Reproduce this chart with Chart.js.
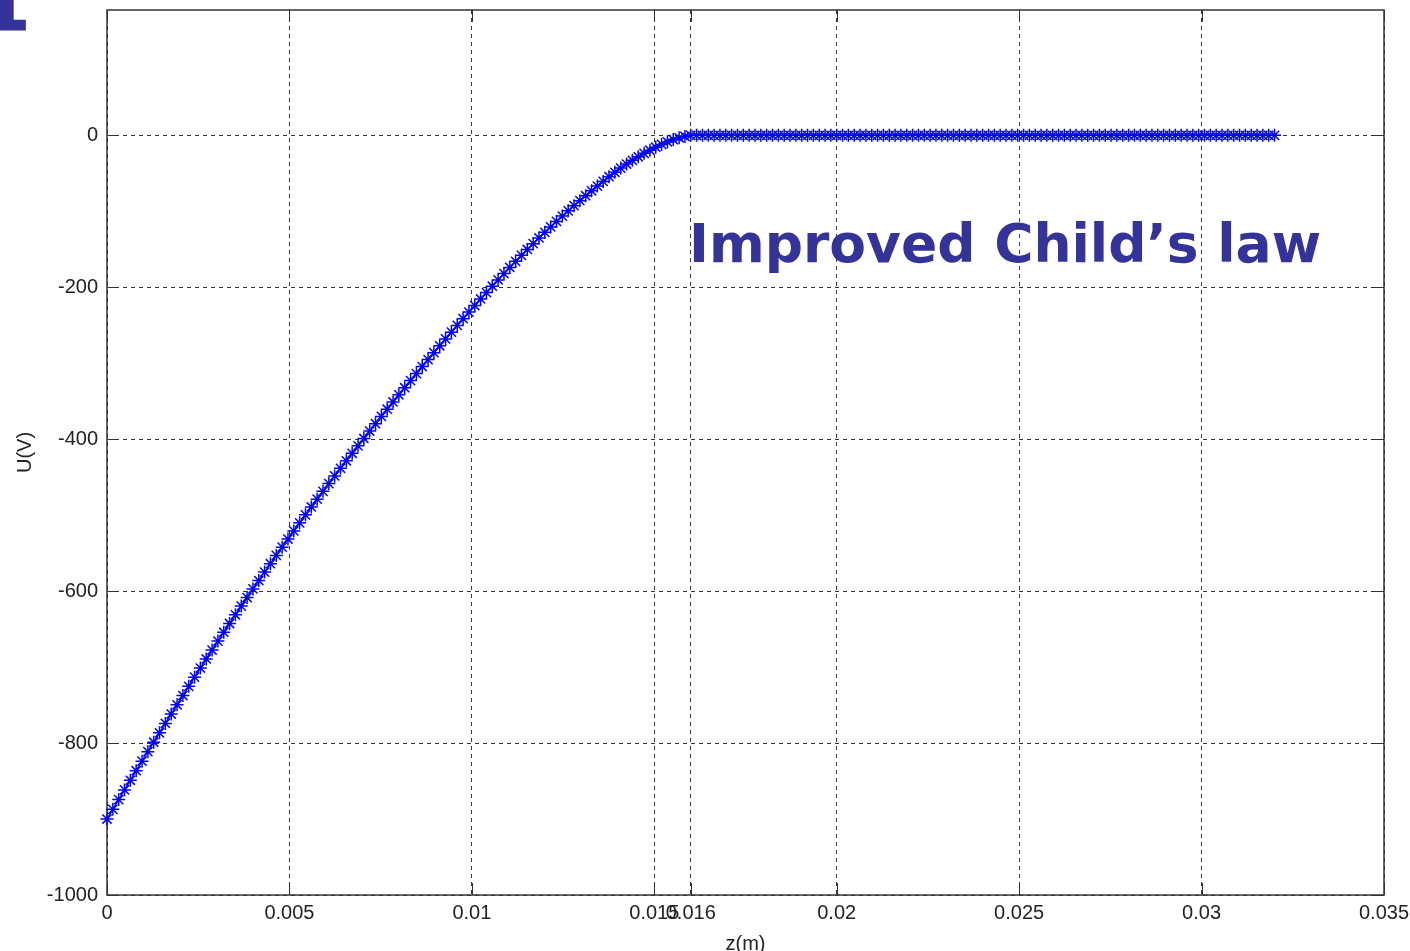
<!DOCTYPE html>
<html>
<head>
<meta charset="utf-8">
<script src="https://cdn.jsdelivr.net/npm/chart.js@4.4.0/dist/chart.umd.min.js"></script>
<style>
  html, body { margin: 0; padding: 0; background: #ffffff; overflow: hidden; }
  canvas { display: block; }
</style>
</head>
<body>
<canvas id="chart" width="1410" height="951"></canvas>
<script>
// Potential through the sheath (z from the electrode up to the sheath edge)
const zSheath = [0, 0.00016, 0.00032, 0.00048, 0.00064, 0.0008, 0.00096, 0.00112, 0.00128, 0.00144,
  0.0016, 0.00176, 0.00192, 0.00208, 0.00224, 0.0024, 0.00256, 0.00272, 0.00288, 0.00304,
  0.0032, 0.00336, 0.00352, 0.00368, 0.00384, 0.004, 0.00416, 0.00432, 0.00448, 0.00464,
  0.0048, 0.00496, 0.00512, 0.00528, 0.00544, 0.0056, 0.00576, 0.00592, 0.00608, 0.00624,
  0.0064, 0.00656, 0.00672, 0.00688, 0.00704, 0.0072, 0.00736, 0.00752, 0.00768, 0.00784,
  0.008, 0.00816, 0.00832, 0.00848, 0.00864, 0.0088, 0.00896, 0.00912, 0.00928, 0.00944,
  0.0096, 0.00976, 0.00992, 0.01008, 0.01024, 0.0104, 0.01056, 0.01072, 0.01088, 0.01104,
  0.0112, 0.01136, 0.01152, 0.01168, 0.01184, 0.012, 0.01216, 0.01232, 0.01248, 0.01264,
  0.0128, 0.01296, 0.01312, 0.01328, 0.01344, 0.0136, 0.01376, 0.01392, 0.01408, 0.01424,
  0.0144, 0.01456, 0.01472, 0.01488, 0.01504, 0.0152, 0.01536, 0.01552, 0.01568, 0.01584,
  0.016];
const uSheath = [-900, -887.2, -874.4, -861.7, -849.0, -836.4, -823.8, -811.3, -798.9, -786.5,
  -774.1, -761.8, -749.6, -737.4, -725.3, -713.2, -701.2, -689.3, -677.5, -665.8,
  -654.1, -642.6, -631.1, -619.7, -608.4, -597.1, -586.0, -574.9, -563.9, -553.0,
  -542.1, -531.4, -520.7, -510.1, -499.6, -489.2, -478.9, -468.6, -458.4, -448.3,
  -438.3, -428.4, -418.5, -408.7, -399.0, -389.2, -379.6, -370.0, -360.5, -351.0,
  -341.5, -332.2, -322.8, -313.6, -304.3, -295.2, -286.1, -277.0, -268.0, -259.1,
  -250.2, -241.4, -232.7, -224.0, -215.4, -207.0, -198.6, -190.3, -182.0, -173.9,
  -165.9, -158.0, -150.2, -142.6, -135.1, -127.7, -120.5, -113.3, -106.3, -99.4,
  -92.6, -86.0, -79.5, -73.0, -66.8, -60.6, -54.5, -48.6, -43.1, -37.8,
  -32.9, -28.2, -23.7, -19.6, -15.6, -11.9, -8.6, -5.6, -3.2, -1.4,
  0];

// Field-free region beyond the sheath edge
const zBulk = [0.01616, 0.01632, 0.01648, 0.01664, 0.0168, 0.01696, 0.01712, 0.01728, 0.01744, 0.0176,
  0.01776, 0.01792, 0.01808, 0.01824, 0.0184, 0.01856, 0.01872, 0.01888, 0.01904, 0.0192,
  0.01936, 0.01952, 0.01968, 0.01984, 0.02, 0.02016, 0.02032, 0.02048, 0.02064, 0.0208,
  0.02096, 0.02112, 0.02128, 0.02144, 0.0216, 0.02176, 0.02192, 0.02208, 0.02224, 0.0224,
  0.02256, 0.02272, 0.02288, 0.02304, 0.0232, 0.02336, 0.02352, 0.02368, 0.02384, 0.024,
  0.02416, 0.02432, 0.02448, 0.02464, 0.0248, 0.02496, 0.02512, 0.02528, 0.02544, 0.0256,
  0.02576, 0.02592, 0.02608, 0.02624, 0.0264, 0.02656, 0.02672, 0.02688, 0.02704, 0.0272,
  0.02736, 0.02752, 0.02768, 0.02784, 0.028, 0.02816, 0.02832, 0.02848, 0.02864, 0.0288,
  0.02896, 0.02912, 0.02928, 0.02944, 0.0296, 0.02976, 0.02992, 0.03008, 0.03024, 0.0304,
  0.03056, 0.03072, 0.03088, 0.03104, 0.0312, 0.03136, 0.03152, 0.03168, 0.03184, 0.032];
const uBulk = [0, 0, 0, 0, 0, 0, 0, 0, 0, 0,
  0, 0, 0, 0, 0, 0, 0, 0, 0, 0,
  0, 0, 0, 0, 0, 0, 0, 0, 0, 0,
  0, 0, 0, 0, 0, 0, 0, 0, 0, 0,
  0, 0, 0, 0, 0, 0, 0, 0, 0, 0,
  0, 0, 0, 0, 0, 0, 0, 0, 0, 0,
  0, 0, 0, 0, 0, 0, 0, 0, 0, 0,
  0, 0, 0, 0, 0, 0, 0, 0, 0, 0,
  0, 0, 0, 0, 0, 0, 0, 0, 0, 0,
  0, 0, 0, 0, 0, 0, 0, 0, 0, 0];

// Axis ticks and labels
const xTickValues = [0, 0.005, 0.01, 0.015, 0.016, 0.02, 0.025, 0.03, 0.035];
const yTickValues = [-1000, -800, -600, -400, -200, 0];
const xTitle = 'z(m)';
const yTitle = 'U(V)';
const annotationText = 'Improved Child’s law';
const headingText = 'I';

const points = zSheath.map((z, i) => ({ x: z, y: uSheath[i] }))
  .concat(zBulk.map((z, i) => ({ x: z, y: uBulk[i] })));

const axisColor = '#333333';
const labelFont = { family: '"Liberation Sans", Arial, sans-serif', size: 20, lineHeight: 1 };

// Box around the plot area with inward tick marks on all four sides
const framePlugin = {
  id: 'frame',
  beforeDatasetsDraw(chart) {
    const { ctx, chartArea: a, scales } = chart;
    const tl = 12;
    ctx.save();
    ctx.strokeStyle = axisColor;
    ctx.lineWidth = 1;
    ctx.beginPath();
    xTickValues.forEach(v => {
      const px = Math.round(scales.x.getPixelForValue(v)) + 0.5;
      ctx.moveTo(px, a.bottom); ctx.lineTo(px, a.bottom - tl);
      ctx.moveTo(px, a.top); ctx.lineTo(px, a.top + tl);
    });
    yTickValues.forEach(v => {
      const py = Math.round(scales.y.getPixelForValue(v)) + 0.5;
      ctx.moveTo(a.left, py); ctx.lineTo(a.left + tl, py);
      ctx.moveTo(a.right, py); ctx.lineTo(a.right - tl, py);
    });
    ctx.stroke();
    ctx.lineWidth = 1.5;
    ctx.strokeRect(a.left, a.top, a.right - a.left, a.bottom - a.top);
    ctx.restore();
  }
};

// Annotation text and the slide heading letter
const textPlugin = {
  id: 'texts',
  afterDraw(chart) {
    const { ctx } = chart;
    ctx.save();
    ctx.fillStyle = '#333399';
    ctx.strokeStyle = '#333399';
    ctx.textAlign = 'left';
    ctx.textBaseline = 'alphabetic';
    ctx.font = 'bold 53.5px "DejaVu Sans", Verdana, sans-serif';
    ctx.fillText(annotationText, 689, 262);
    ctx.textAlign = 'center';
    ctx.font = 'bold 130px "DejaVu Serif", serif';
    ctx.lineWidth = 3;
    ctx.fillText(headingText, 0, 28.5);
    ctx.strokeText(headingText, 0, 28.5);
    ctx.restore();
  }
};

new Chart(document.getElementById('chart'), {
  type: 'scatter',
  data: {
    datasets: [{
      data: points,
      showLine: true,
      borderColor: '#0000ff',
      backgroundColor: '#0000ff',
      borderWidth: 1.5,
      pointStyle: 'star',
      pointRadius: 6.5,
      pointHoverRadius: 6.5,
      pointBorderWidth: 1.5,
      tension: 0,
      clip: false
    }]
  },
  options: {
    responsive: false,
    animation: false,
    events: [],
    layout: { padding: { top: 10, right: 26, bottom: 0, left: 0 } },
    plugins: { legend: { display: false }, tooltip: { enabled: false } },
    scales: {
      x: {
        type: 'linear',
        min: 0,
        max: 0.035,
        afterBuildTicks: s => { s.ticks = xTickValues.map(v => ({ value: v })); },
        afterFit: s => { s.height = 56; s.paddingLeft = 0; s.paddingRight = 0; },
        grid: { color: axisColor, lineWidth: 1, drawTicks: false },
        border: { display: false, dash: [4, 4] },
        ticks: {
          autoSkip: false, maxRotation: 0, minRotation: 0, padding: 8,
          color: '#222222', font: labelFont,
          callback: v => String(v)
        },
        title: {
          display: true, text: xTitle, color: '#222222', font: labelFont,
          padding: { top: 0, bottom: -3 }
        }
      },
      y: {
        type: 'linear',
        min: -1000,
        max: 165,
        afterBuildTicks: s => { s.ticks = yTickValues.map(v => ({ value: v })); },
        afterFit: s => { s.width = 107; s.paddingTop = 0; s.paddingBottom = 0; },
        grid: { color: axisColor, lineWidth: 1, drawTicks: false },
        border: { display: false, dash: [4, 4] },
        ticks: {
          padding: 9, color: '#222222', font: labelFont,
          callback: v => String(v)
        },
        title: {
          display: true, text: yTitle, color: '#222222', font: labelFont,
          padding: { top: 15, bottom: 0 }
        }
      }
    }
  },
  plugins: [framePlugin, textPlugin]
});
</script>
</body>
</html>
